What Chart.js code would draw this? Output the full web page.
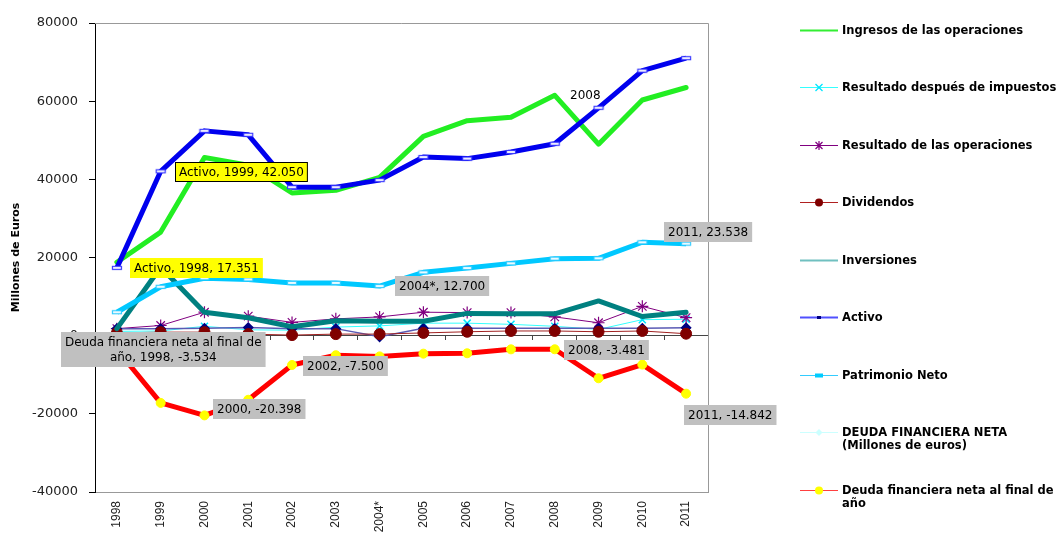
<!DOCTYPE html>
<html><head><meta charset="utf-8">
<script src="https://cdn.jsdelivr.net/npm/chart.js@4.4.1/dist/chart.umd.min.js"></script>
<style>
html,body{margin:0;padding:0;background:#fff;overflow:hidden;}
#wrap{position:relative;width:1063px;height:534px;}
#c{position:absolute;left:0;top:0;}
.leg{position:absolute;left:800px;height:30px;width:262px;}
.leg svg{position:absolute;left:0;top:0;}
.leg span{position:absolute;left:42px;top:0;width:222px;font:bold 11.5px "DejaVu Sans";color:#000;line-height:13px;}
</style></head><body>
<div id="wrap"><canvas id="c" width="1063" height="534"></canvas><div id="legend"></div></div>
<script>
// ---------- DATA ----------
const categories = ['1998','1999','2000','2001','2002','2003','2004*','2005','2006','2007','2008','2009','2010','2011'];
const yTicks = [-40000, -20000, 0, 20000, 40000, 60000, 80000];
const yTitle = 'Millones de Euros';
const seriesNames = ['Ingresos de las operaciones','Resultado después de impuestos','Resultado de las operaciones','Dividendos','Inversiones','Activo','Patrimonio Neto','DEUDA FINANCIERA NETA (Millones de euros)','Deuda financiera neta al final de año'];
const ingresos       = [18800, 26500, 45600, 43600, 36500, 37200, 40500, 51000, 55000, 55900, 61500, 49000, 60300, 63500];
const resDespues     = [1100, 1200, 2400, 1500, 1400, 2200, 2500, 3200, 3200, 2900, 2400, 1600, 4100, 4200];
const resOperaciones = [1800, 2600, 6000, 5000, 3400, 4300, 4800, 6000, 5900, 5900, 4800, 3300, 7500, 4600];
const dividendos     = [700, 900, 900, 400, 150, 400, 400, 700, 1000, 1200, 1200, 1000, 1200, 500];
const inversiones    = [1800, 17500, 6000, 4600, 2300, 3800, 3700, 3700, 5700, 5600, 5600, 8900, 4900, 6000];
const activoBajo     = [1800, 1800, 1900, 2100, 1800, 1800, -300, 1900, 1900, 1900, 1900, 1900, 1900, 2000];
const activo         = [17351, 42050, 52400, 51400, 38000, 38000, 39800, 45700, 45300, 47000, 49100, 58300, 67800, 71000];
const patrimonio     = [6000, 12500, 14700, 14400, 13500, 13500, 12700, 16200, 17300, 18500, 19700, 19800, 23900, 23538];
const deudaNeta      = [null, null, null, null, null, null, null, null, null, null, null, null, null, null];
const deudaFinal     = [-3534, -17200, -20398, -16400, -7500, -5000, -5300, -4600, -4500, -3500, -3481, -10900, -7400, -14842];

// ---------- helpers ----------
function fmtNum(v){
  const s = Math.abs(Math.round(v)).toString().replace(/\B(?=(\d{3})+(?!\d))/g, '.');
  return (v < 0 ? '-' : '') + s;
}
function rectMarker(stroke){
  const c = document.createElement('canvas'); c.width = 12; c.height = 6;
  const x = c.getContext('2d');
  x.fillStyle = '#fff'; x.fillRect(1,1,10,4);
  x.strokeStyle = stroke; x.lineWidth = 1.2; x.strokeRect(1.5,1.5,9,3);
  return c;
}
const thick = {borderWidth:5, pointRadius:0, borderJoinStyle:'round', borderCapStyle:'round', tension:0};
const thin = {borderWidth:1, tension:0};

const datasets = [
  Object.assign({label:seriesNames[0], data:ingresos, borderColor:'#22ee22', order:9}, thick),
  Object.assign({label:seriesNames[1], data:resDespues, borderColor:'#33ffff', pointStyle:'crossRot', pointRadius:5, pointBorderColor:'#00e5ff', pointBorderWidth:1.5, order:8}, thin),
  Object.assign({label:seriesNames[2], data:resOperaciones, borderColor:'#800080', pointStyle:'star', pointRadius:6, pointBorderColor:'#800080', pointBorderWidth:1.2, order:7}, thin),
  Object.assign({label:seriesNames[3], data:dividendos, borderColor:'#a02020', pointStyle:'circle', pointRadius:5.5, pointBackgroundColor:'#800000', pointBorderColor:'#800000', order:6}, thin),
  Object.assign({label:seriesNames[4], data:inversiones, borderColor:'#008080', order:5}, thick),
  Object.assign({label:'Activo (2)', data:activoBajo, borderColor:'#5a5ab4', borderWidth:1.5, tension:0, pointStyle:'rectRot', pointRadius:4.5, pointBackgroundColor:'#000080', pointBorderColor:'#000080', order:6.5}),
  Object.assign({label:seriesNames[5], data:activo, borderColor:'#0000ee', borderWidth:5, borderJoinStyle:'round', tension:0, pointStyle:rectMarker('#3a3aff'), pointRadius:5, order:3}),
  Object.assign({label:seriesNames[6], data:patrimonio, borderColor:'#00c8ff', borderWidth:5, borderJoinStyle:'round', tension:0, pointStyle:rectMarker('#33ccff'), pointRadius:5, order:2}),
  Object.assign({label:seriesNames[7], data:deudaNeta, borderColor:'#ccffff', pointStyle:'rectRot', pointRadius:4, pointBackgroundColor:'#ccffff', order:1.5}, thin),
  Object.assign({label:seriesNames[8], data:deudaFinal, borderColor:'#ff0000', borderWidth:5, borderJoinStyle:'round', tension:0, pointStyle:'circle', pointRadius:4.5, pointBorderWidth:1, pointBackgroundColor:'#ffff00', pointBorderColor:'#ffff00', order:1})
];

// annotation styles (data comes from the series)
const annotations = [
  {ds:6, i:1, kind:'full', bg:'#ffff00', border:'#000', dx:14, dy:1},
  {ds:6, i:0, kind:'full', bg:'#ffff00', border:null, dx:13, dy:0},
  {ds:7, i:6, kind:'catval', bg:'#c0c0c0', border:null, dx:15, dy:0},
  {ds:7, i:13, kind:'catval', bg:'#c0c0c0', border:null, dx:-22, dy:-12},
  {ds:0, i:10, kind:'cat', bg:null, border:null, dx:11, dy:0},
  {ds:9, i:10, kind:'catval', bg:'#c0c0c0', border:null, dx:9, dy:1},
  {ds:9, i:0, kind:'full', bg:'#c0c0c0', border:null, dx:-56, dy:0, wrap:205},
  {ds:9, i:2, kind:'catval', bg:'#c0c0c0', border:null, dx:9, dy:-6},
  {ds:9, i:4, kind:'catval', bg:'#c0c0c0', border:null, dx:11, dy:1},
  {ds:9, i:13, kind:'catval', bg:'#c0c0c0', border:null, dx:-2, dy:21}
];

const framePlugin = {
  id:'frame',
  beforeDatasetsDraw(chart){
    const {ctx, chartArea:a} = chart;
    ctx.save(); ctx.strokeStyle = '#999'; ctx.lineWidth = 1;
    ctx.beginPath();
    ctx.moveTo(a.left, Math.round(a.top)+0.5); ctx.lineTo(Math.round(a.right)+0.5, Math.round(a.top)+0.5);
    ctx.lineTo(Math.round(a.right)+0.5, a.bottom);
    ctx.stroke(); ctx.restore();
  }
};

const labelPlugin = {
  id:'labels',
  afterDraw(chart){
    const ctx = chart.ctx;
    ctx.save();
    ctx.font = '12px "DejaVu Sans"';
    ctx.textBaseline = 'middle';
    annotations.forEach(a => {
      const ds = chart.data.datasets[a.ds];
      const el = chart.getDatasetMeta(a.ds).data[a.i];
      const v = ds.data[a.i], cat = categories[a.i];
      let text;
      if (a.kind === 'full') text = ds.label + ', ' + cat + ', ' + fmtNum(v);
      else if (a.kind === 'catval') text = cat + ', ' + fmtNum(v);
      else text = cat;
      let lines = [text];
      if (a.wrap){
        lines = []; let cur = '';
        text.split(' ').forEach(w => {
          const t = cur ? cur + ' ' + w : w;
          if (ctx.measureText(t).width > a.wrap && cur){ lines.push(cur); cur = w; } else cur = t;
        });
        lines.push(cur);
      }
      const lh = 15, padX = 4, padY = 3;
      const w = Math.max(...lines.map(l => ctx.measureText(l).width)) + padX*2;
      const h = lines.length*lh + padY*2 - 1;
      const x0 = Math.round(el.x + a.dx), cy = el.y + a.dy, y0 = Math.round(cy - h/2);
      if (a.bg){ ctx.fillStyle = a.bg; ctx.fillRect(x0, y0, w, h); }
      if (a.border){ ctx.strokeStyle = a.border; ctx.lineWidth = 1; ctx.strokeRect(x0+0.5, y0+0.5, w-1, h-1); }
      ctx.fillStyle = '#000';
      ctx.textAlign = 'center';
      lines.forEach((l, k) => ctx.fillText(l, x0 + w/2, y0 + padY + lh/2 + k*lh));
    });
    ctx.restore();
  }
};

new Chart(document.getElementById('c'), {
  type:'line',
  data:{labels:categories, datasets},
  options:{
    responsive:false, animation:false,
    layout:{padding:{left:0, right:355, top:23, bottom:0}},
    plugins:{legend:{display:false}, tooltip:{enabled:false}},
    scales:{
      x:{type:'category', axis:'x', position:'bottom', offset:true,
         grid:{display:false, drawTicks:false}, border:{display:true, color:'#999'},
         ticks:{maxRotation:90, minRotation:90, autoSkip:false, padding:9, color:'#222', font:{family:'Liberation Sans', size:12}},
         afterFit(s){ s.height = 42; }},
      x0:{type:'category', axis:'x', position:{y:0}, offset:true,
         grid:{display:true, drawOnChartArea:false, drawTicks:true, tickLength:4, offset:true, color:'#444'},
         border:{display:true, color:'#444'}, ticks:{display:false}},
      y:{type:'linear', min:yTicks[0], max:yTicks[yTicks.length-1],
         afterBuildTicks(s){ s.ticks = yTicks.map(v => ({value:v})); },
         ticks:{color:'#222', padding:11, font:{family:'DejaVu Sans', size:13}, callback:v => String(v)},
         grid:{drawOnChartArea:false, drawTicks:true, tickLength:6, color:'#000'},
         border:{display:true, color:'#000'},
         title:{display:true, text:yTitle, color:'#000', font:{family:'DejaVu Sans', size:11, weight:'bold'}, padding:{top:10, bottom:0}},
         afterFit(s){ s.width = 95; }}
    }
  },
  plugins:[framePlugin, labelPlugin]
});

// ---------- HTML legend ----------
const legendIcons = [
  {line:'#33ee33', w:2},
  {line:'#33ffff', w:1, mark:'x', mc:'#00e5ff'},
  {line:'#800080', w:1, mark:'star', mc:'#800080'},
  {line:'#b02020', w:1, mark:'circle', mc:'#800000'},
  {line:'#70c0c0', w:2},
  {line:'#5050ff', w:2, mark:'smallrect', mc:'#000080'},
  {line:'#33ccff', w:1, mark:'rect', mc:'#00ccff'},
  {line:'#ccffff', w:1, mark:'diamond', mc:'#ccffff'},
  {line:'#ff4040', w:1, mark:'circle', mc:'#ffff00'}
];
const legendTop = 30, legendStep = 57.5;
const leg = document.getElementById('legend');
seriesNames.forEach((name, k) => {
  const ic = legendIcons[k];
  const d = document.createElement('div');
  d.className = 'leg';
  d.style.top = (legendTop + k*legendStep - 6.5) + 'px';
  let m = '';
  const cx = 19, cy = 6.5;
  if (ic.mark === 'x') m = `<path d="M${cx-3.5} ${cy-3.5}L${cx+3.5} ${cy+3.5}M${cx-3.5} ${cy+3.5}L${cx+3.5} ${cy-3.5}" stroke="${ic.mc}" stroke-width="1.3"/>`;
  if (ic.mark === 'star') m = `<path d="M${cx-3.5} ${cy-3.5}L${cx+3.5} ${cy+3.5}M${cx-3.5} ${cy+3.5}L${cx+3.5} ${cy-3.5}M${cx} ${cy-4.5}L${cx} ${cy+4.5}" stroke="${ic.mc}" stroke-width="1.2"/>`;
  if (ic.mark === 'circle') m = `<circle cx="${cx}" cy="${cy}" r="4" fill="${ic.mc}"/>`;
  if (ic.mark === 'smallrect') m = `<rect x="${cx-2}" y="${cy-1.5}" width="4" height="3" fill="${ic.mc}"/>`;
  if (ic.mark === 'rect') m = `<rect x="${cx-4}" y="${cy-2}" width="8" height="4" fill="${ic.mc}"/>`;
  if (ic.mark === 'diamond') m = `<path d="M${cx} ${cy-3.5}L${cx+3.5} ${cy}L${cx} ${cy+3.5}L${cx-3.5} ${cy}Z" fill="${ic.mc}"/>`;
  d.innerHTML = `<svg width="40" height="13"><line x1="0" y1="${cy}" x2="38" y2="${cy}" stroke="${ic.line}" stroke-width="${ic.w}"/>${m}</svg><span>${name}</span>`;
  leg.appendChild(d);
});
</script>
</body></html>
